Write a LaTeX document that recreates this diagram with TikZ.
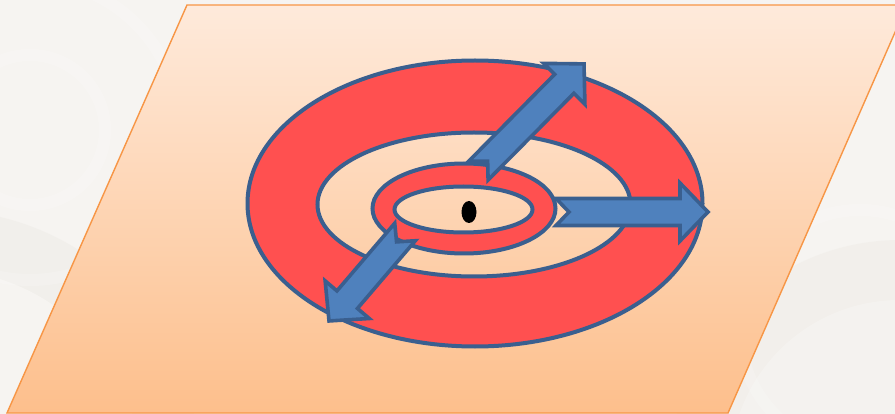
\documentclass[tikz,border=0pt]{standalone}
\begin{document}
\begin{tikzpicture}[x=1pt,y=-1pt,
  plane/.style={draw=planeedge,line width=1.4pt,top color=planetop,bottom color=planebot},
  ringbody/.style={fill=ringred,draw=ringedge,line width=4pt,even odd rule},
  arrowbody/.style={fill=arrowblue,draw=ringedge,line width=3.6pt,line join=miter},
  swirl/.style={line width=12pt,draw=white,opacity=0.18}]
\definecolor{bgcol}{HTML}{F6F4F1}
\definecolor{bgdark}{HTML}{EFECE7}
\definecolor{planeedge}{HTML}{F79646}
\definecolor{planetop}{HTML}{FEEADB}
\definecolor{planebot}{HTML}{FDBF8C}
\definecolor{ringred}{HTML}{FF5050}
\definecolor{ringedge}{HTML}{3A5F8F}
\definecolor{arrowblue}{HTML}{4F81BD}
\newcommand\notcharrow[3]{%
  \begin{scope}[shift={(#1)},rotate=#2]
    \draw[arrowbody] (0,-13.5) -- ({#3-28},-13.5) -- ({#3-28},-29) -- (#3,0)
      -- ({#3-28},29) -- ({#3-28},13.5) -- (0,13.5) -- (13,0) -- cycle;
  \end{scope}}
\useasboundingbox (0,0) rectangle (895,414);
\clip (0,0) rectangle (895,414);
% background
\fill[bgcol] (0,0) rectangle (895,414);
\fill[bgdark,opacity=0.6] (-60,470) circle (260);
\fill[bgcol] (-60,470) circle (200);
\draw[swirl] (30,130) circle (75);
\draw[swirl] (30,130) circle (150);
\fill[bgdark,opacity=0.5] (900,470) circle (230);
\fill[bgcol,opacity=0.7] (900,470) circle (170);
\draw[swirl] (860,330) circle (120);
% plane
\path[plane] (187,5) -- (907,5) -- (728,413) -- (7,413) -- cycle;
% outer ring
\path[ringbody] (475,203.5) ellipse [x radius=227.5,y radius=143]
  (474,204.5) ellipse [x radius=156.5,y radius=72];
% small ring
\path[ringbody] (464,208.5) ellipse [x radius=91.5,y radius=45]
  (463.5,209.5) ellipse [x radius=69,y radius=23];
% centre dot
\fill[black] (469,212) ellipse [x radius=7.5,y radius=11];
% arrows
\coordinate (t1) at (478.5,170.5);
\coordinate (t2) at (556,212);
\coordinate (t3) at (405,232);
\notcharrow{t1}{45.3}{150}
\notcharrow{t2}{0}{152}
\notcharrow{t3}{229.5}{117}
\end{tikzpicture}
\end{document}
